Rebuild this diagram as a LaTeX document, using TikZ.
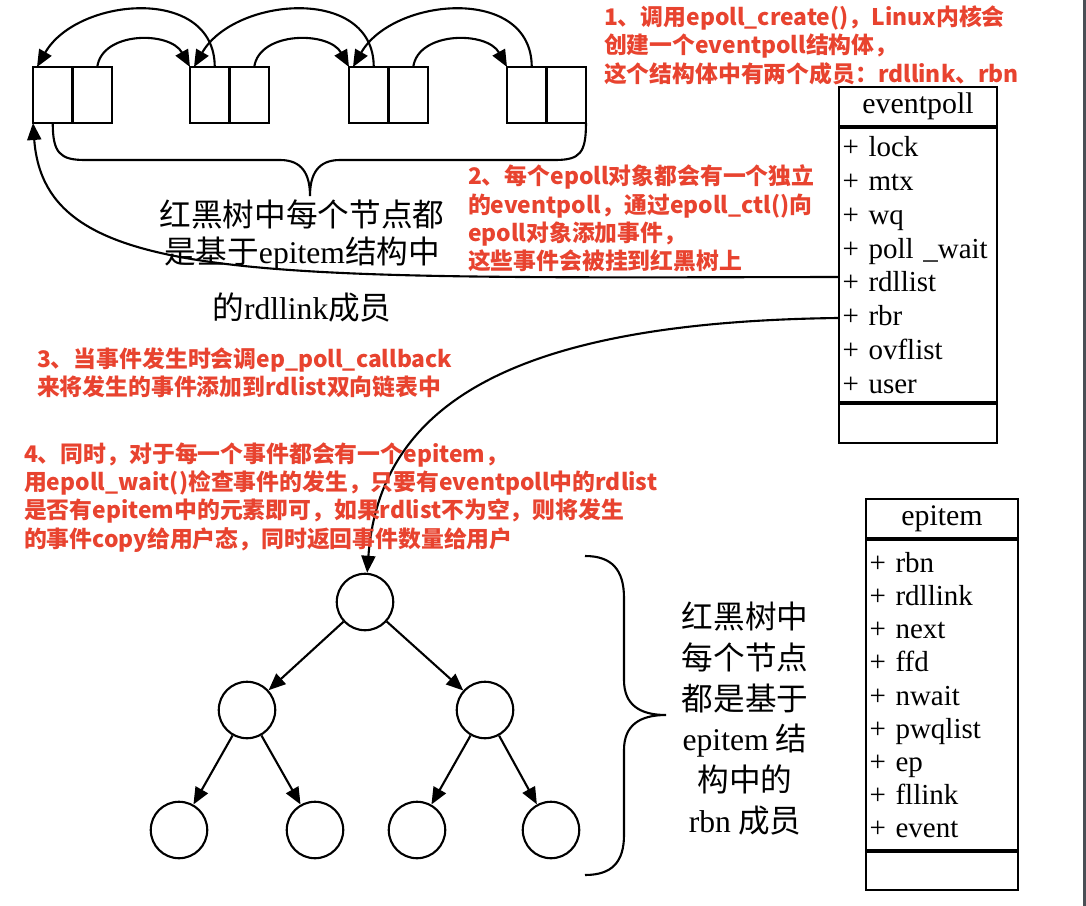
\documentclass[tikz,border=0pt]{standalone}
\usepackage{fontspec}
\setmainfont{Liberation Serif}
\newfontfamily\cjk{Noto Sans CJK SC}
\usetikzlibrary{arrows.meta, positioning}
\definecolor{cred}{HTML}{E8432F}
\definecolor{cframe}{HTML}{4A4F55}
\newcommand\lat[1]{{\rmfamily #1}}
\tikzset{
  every picture/.style={line width=1.2pt},
  cell/.style={draw, minimum width=0.79cm, minimum height=1.12cm, inner sep=0, outer sep=0},
  nd/.style={draw, circle, minimum size=1.13cm, inner sep=0},
  hd/.style={draw, minimum height=0.78cm, inner sep=0, font=\fontsize{17}{20}\selectfont},
  fields/.style={draw, align=left, inner xsep=2pt, inner ysep=0},
  link/.style={-{Triangle[length=3.4mm, width=2.8mm]}},
  note/.style={text=cred, font=\cjk\bfseries\fontsize{13}{16}\selectfont, align=left, anchor=north west, inner sep=0},
  capt/.style={align=center, anchor=north, inner sep=0},
}

\begin{document}
\begin{tikzpicture}[x=0.02cm, y=-0.02cm]
  \fill[white] (0,0) rectangle (1086,906);
  \useasboundingbox (0,0) rectangle (1086,906);
  \fill[cframe] (1083,0) rectangle (1086,906);
  % rdllink list
  \foreach \i/\x in {1/33,2/190,3/349,4/507} {
    \node[cell, anchor=north west] (l\i) at (\x,67) {};
    \node[cell, right=0 of l\i] (r\i) {};
  }
  \foreach \i/\j in {1/2,2/3,3/4} {
    \draw[link] ([xshift=0.1cm]r\i.north) .. controls +(5,-36) and +(-20,-36) .. (l\j.north west);
    \draw[link] ([xshift=0.1cm]l\j.north) .. controls +(0,-82) and +(40,-70) .. ([xshift=0.08cm]l\i.north west);
  }
  \coordinate (btip) at (310,196);
  \draw (l1.south) .. controls +(0,30) and +(-25,0) .. (85,160) -- (280,160)
    .. controls +(22,0) and +(0,-22) .. (btip)
    .. controls +(0,-22) and +(-22,0) .. (340,160) -- (555,160)
    .. controls +(25,0) and +(0,30) .. (r4.south east);
  \node[capt, font=\cjk\fontsize{18}{21}\selectfont] (lcap) at (302,199)
    {红黑树中每个节点都\\是基于\lat{epitem}结构中\\[11pt]的\lat{rdllink}成员};
  % eventpoll
  \node[hd, minimum width=3.16cm, anchor=north west] (ephd) at (838,86) {eventpoll};
  \node[fields, below=0 of ephd, minimum height=5.48cm, text width=3.02cm,
        font=\fontsize{16.5}{19.3}\selectfont] (epbody)
    {+ lock\\+ mtx\\+ wq\\+ poll \_wait\\+ rdllist\\+ rbr\\+ ovflist\\+ user};
  \node[hd, below=0 of epbody, minimum width=3.16cm] (epfoot) {};
  \coordinate (rdl) at (838,277);
  \coordinate (rbr) at (838,318);
  \draw[link] (rdl) .. controls (250,278) and (45,285) .. (l1.south west);
  % epitem
  \node[hd, minimum width=3.04cm, anchor=north west] (eihd) at (865,498) {epitem};
  \node[fields, below=0 of eihd, minimum height=6.2cm, text width=2.9cm,
        font=\fontsize{16.5}{18.9}\selectfont] (eibody)
    {+ rbn\\+ rdllink\\+ next\\+ ffd\\+ nwait\\+ pwqlist\\+ ep\\+ fllink\\+ event};
  \node[hd, below=0 of eibody, minimum width=3.04cm, minimum height=0.76cm] (eifoot) {};
  % red-black tree
  \node[nd] (t0) at (365,602) {};
  \node[nd] (t1) at (247,710) {};
  \node[nd] (t2) at (485,710) {};
  \foreach \n/\x in {t3/179,t4/315,t5/417,t6/551}
    \node[nd] (\n) at (\x,830) {};
  \foreach \a/\b in {t0/t1,t0/t2,t1/t3,t1/t4,t2/t5,t2/t6}
    \draw[link] (\a) -- (\b);
  \draw[link] (rbr) .. controls (520,322) and (380,400) .. (t0);
  \draw (585,556) .. controls (612,556) and (624,570) .. (624,598) -- (624,680)
    .. controls (624,705) and (640,715) .. (666,715)
    .. controls (640,715) and (624,725) .. (624,750) -- (624,835)
    .. controls (624,862) and (612,875) .. (585,875);
  \node[capt, font=\cjk\fontsize{18}{23.2}\selectfont] (tcap) at (745,601)
    {红黑树中\\每个节点\\都是基于\\\lat{epitem} 结\\构中的\\\lat{rbn} 成员};
  % notes
  \node[note] (s1) at (603,5) {1、调用epoll\_create()，Linux内核会\\创建一个eventpoll结构体，\\这个结构体中有两个成员：rdllink、rbn};
  \node[note] (s2) at (467,164) {2、每个epoll对象都会有一个独立\\的eventpoll，通过epoll\_ctl()向\\epoll对象添加事件，\\这些事件会被挂到红黑树上};
  \node[note] (s3) at (36,347) {3、当事件发生时会调ep\_poll\_callback\\来将发生的事件添加到rdlist双向链表中};
  \node[note] (s4) at (23,442) {4、同时，对于每一个事件都会有一个epitem，\\用epoll\_wait()检查事件的发生，只要有eventpoll中的rdlist\\是否有epitem中的元素即可，如果rdlist不为空，则将发生\\的事件copy给用户态，同时返回事件数量给用户};
\end{tikzpicture}
\end{document}
